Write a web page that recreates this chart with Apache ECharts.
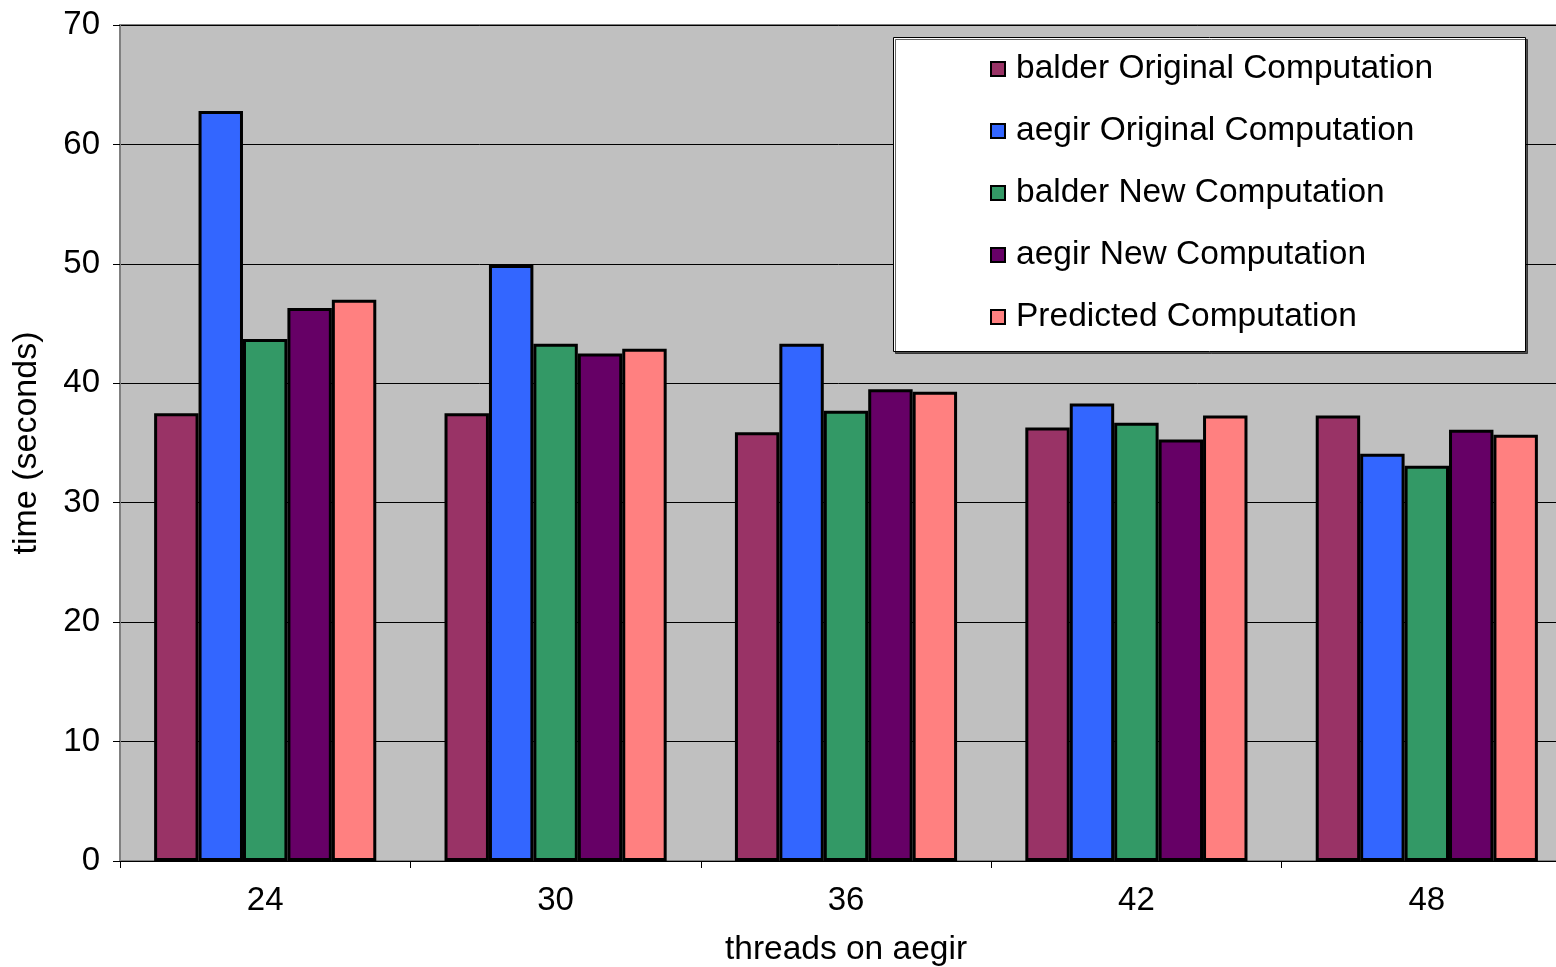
<!DOCTYPE html>
<html>
<head>
<meta charset="utf-8">
<script src="https://cdn.jsdelivr.net/npm/echarts@6/dist/echarts.min.js"></script>
<style>
  html, body { margin: 0; padding: 0; background: #fff; }
  #chart { width: 1556px; height: 967px; }
</style>
</head>
<body>
<div id="chart"></div>
<script>
// Thread counts on aegir (x axis categories)
const threads = ['24', '30', '36', '42', '48'];

// Run times in seconds for each configuration
const balderOriginal = [37.5, 37.5, 35.9, 36.3, 37.3];
const aegirOriginal  = [62.8, 49.9, 43.3, 38.3, 34.1];
const balderNew      = [43.7, 43.3, 37.7, 36.7, 33.1];
const aegirNew       = [46.3, 42.5, 39.5, 35.3, 36.1];
const predicted      = [47.0, 42.9, 39.3, 37.3, 35.7];

const seriesNames = [
  'balder Original Computation',
  'aegir Original Computation',
  'balder New Computation',
  'aegir New Computation',
  'Predicted Computation'
];
const seriesData = [balderOriginal, aegirOriginal, balderNew, aegirNew, predicted];
const seriesColors = ['#993366', '#3366FF', '#339966', '#660066', '#FF8080'];

const FONT = '"Liberation Sans", Arial, sans-serif';

const chart = echarts.init(document.getElementById('chart'), null, { renderer: 'canvas' });

chart.setOption({
  animation: false,
  backgroundColor: '#ffffff',
  textStyle: { fontFamily: FONT, color: '#000' },
  grid: {
    left: 120,
    top: 25,
    width: 1452,
    height: 836,
    outerBoundsMode: 'none',
    containLabel: false,
    show: true,
    backgroundColor: '#C0C0C0',
    borderColor: '#808080',
    borderWidth: 2
  },
  graphic: [{
    type: 'rect',
    z: 3,
    shape: { x: 893.5, y: 37.5, width: 632, height: 314 },
    style: {
      fill: '#ffffff',
      stroke: '#000000',
      lineWidth: 1,
      shadowColor: 'rgba(0,0,0,0.6)',
      shadowOffsetX: 2,
      shadowOffsetY: 2,
      shadowBlur: 0
    }
  }],
  legend: {
    z: 5,
    orient: 'vertical',
    left: 990,
    top: 52,
    padding: 0,
    icon: 'rect',
    itemWidth: 14,
    itemHeight: 14,
    itemGap: 28,
    textStyle: {
      fontFamily: FONT,
      fontSize: 33.5,
      lineHeight: 34,
      color: '#000',
      padding: [0, 0, 0, 6]
    },
    data: seriesNames
  },
  xAxis: {
    type: 'category',
    data: threads,
    name: 'threads on aegir',
    nameLocation: 'middle',
    nameGap: 72,
    nameTextStyle: { fontFamily: FONT, fontSize: 33.5, color: '#000' },
    axisLine: { show: true, lineStyle: { color: '#000', width: 1 } },
    axisTick: { show: true, length: 7, lineStyle: { color: '#000' } },
    axisLabel: { fontFamily: FONT, fontSize: 33, color: '#000', margin: 23 }
  },
  yAxis: {
    type: 'value',
    min: 0,
    max: 70,
    interval: 10,
    name: 'time (seconds)',
    nameLocation: 'middle',
    nameGap: 76,
    nameTextStyle: { fontFamily: FONT, fontSize: 34, color: '#000' },
    axisLine: { show: true, lineStyle: { color: '#808080', width: 2 } },
    axisTick: { show: true, length: 7, lineStyle: { color: '#000' } },
    axisLabel: { fontFamily: FONT, fontSize: 33, color: '#000', margin: 20 },
    splitLine: { show: true, lineStyle: { color: '#000', width: 1 } }
  },
  series: seriesNames.map((name, i) => ({
    name: name,
    type: 'bar',
    data: seriesData[i],
    barGap: '0%',
    barCategoryGap: '23.5%',
    itemStyle: {
      color: seriesColors[i],
      borderColor: '#000',
      borderWidth: 3
    }
  }))
});
</script>
</body>
</html>
